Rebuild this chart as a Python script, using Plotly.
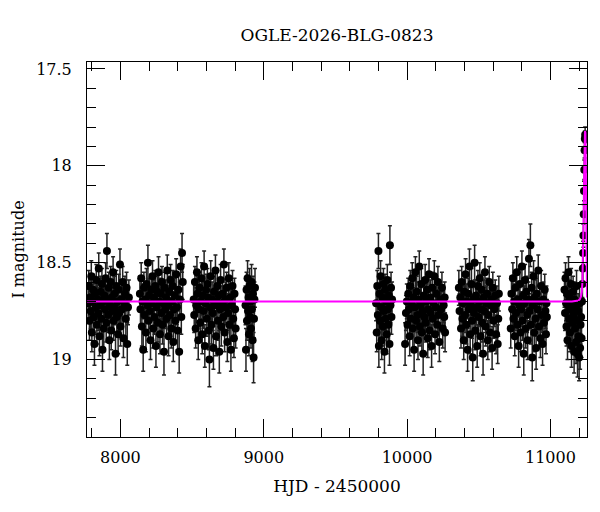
import plotly.graph_objects as go

# OGLE I-band photometry (HJD - 2450000, mag, error), one list per season
t_s1 = [7775, 7779, 7784, 7788, 7793, 7797, 7801, 7806, 7810, 7815,
        7819, 7823, 7828, 7832, 7836, 7841, 7845, 7849, 7854, 7858,
        7862, 7867, 7871, 7875, 7880, 7884, 7888, 7893, 7897, 7901,
        7906, 7910, 7914, 7919, 7923, 7927, 7932, 7936, 7940, 7945,
        7949, 7953, 7958, 7962, 7966, 7971, 7975, 7979, 7984, 7988,
        7992, 7997, 8001, 8006, 8011, 8016, 8021, 8027, 8032, 8038,
        8043, 8048, 8053, 8059]
mag_s1 = [18.71, 18.62, 18.80, 18.68, 18.75, 18.57, 18.86, 18.70, 18.64, 18.78,
          18.92, 18.66, 18.73, 18.59, 18.82, 18.69, 18.76, 18.53, 18.88, 18.72,
          18.65, 18.79, 18.61, 18.95, 18.70, 18.84, 18.67, 18.74, 18.58, 18.81,
          18.44, 18.69, 18.77, 18.63, 18.90, 18.72, 18.60, 18.85, 18.68, 18.75,
          18.55, 18.80, 18.66, 18.73, 18.97, 18.62, 18.78, 18.70, 18.87, 18.64,
          18.76, 18.51, 18.83, 18.69, 18.74, 18.60, 18.89, 18.71, 18.66, 18.79,
          18.63, 18.92, 18.73, 18.68]
err_s1 = [0.09, 0.08, 0.10, 0.09, 0.09, 0.08, 0.10, 0.09, 0.08, 0.09,
          0.11, 0.09, 0.09, 0.08, 0.10, 0.09, 0.09, 0.08, 0.10, 0.09,
          0.08, 0.09, 0.08, 0.11, 0.09, 0.10, 0.09, 0.09, 0.08, 0.10,
          0.09, 0.09, 0.09, 0.08, 0.10, 0.09, 0.08, 0.10, 0.09, 0.09,
          0.08, 0.10, 0.09, 0.09, 0.11, 0.08, 0.09, 0.09, 0.10, 0.08,
          0.09, 0.08, 0.10, 0.09, 0.09, 0.08, 0.10, 0.09, 0.09, 0.09,
          0.08, 0.11, 0.09, 0.09]

t_s2 = [8136, 8140, 8145, 8150, 8154, 8159, 8164, 8168, 8173, 8178,
        8182, 8187, 8192, 8196, 8201, 8206, 8210, 8215, 8220, 8224,
        8229, 8234, 8238, 8243, 8248, 8252, 8257, 8262, 8266, 8271,
        8276, 8280, 8285, 8290, 8294, 8299, 8304, 8308, 8313, 8318,
        8322, 8327, 8332, 8336, 8341, 8346, 8350, 8355, 8360, 8364,
        8369, 8374, 8379, 8384, 8389, 8394, 8399, 8405, 8410, 8415,
        8420, 8425, 8430, 8435]
mag_s2 = [18.66, 18.74, 18.58, 18.83, 18.70, 18.95, 18.63, 18.77, 18.69, 18.86,
          18.61, 18.72, 18.50, 18.80, 18.67, 18.75, 18.90, 18.64, 18.71, 18.57,
          18.84, 18.68, 18.78, 18.62, 18.93, 18.73, 18.65, 18.81, 18.55, 18.70,
          18.87, 18.66, 18.76, 18.60, 18.82, 18.71, 18.96, 18.63, 18.74, 18.68,
          18.79, 18.54, 18.72, 18.88, 18.65, 18.77, 18.59, 18.84, 18.70, 18.62,
          18.91, 18.74, 18.67, 18.80, 18.56, 18.73, 18.85, 18.64, 18.96, 18.69,
          18.52, 18.78, 18.45, 18.60]
err_s2 = [0.09, 0.09, 0.08, 0.10, 0.09, 0.11, 0.08, 0.09, 0.09, 0.10,
          0.08, 0.09, 0.09, 0.10, 0.09, 0.09, 0.10, 0.08, 0.09, 0.08,
          0.10, 0.09, 0.09, 0.08, 0.11, 0.09, 0.08, 0.10, 0.08, 0.09,
          0.10, 0.08, 0.09, 0.08, 0.10, 0.09, 0.12, 0.08, 0.09, 0.09,
          0.09, 0.08, 0.09, 0.10, 0.08, 0.09, 0.08, 0.10, 0.09, 0.08,
          0.10, 0.09, 0.09, 0.10, 0.08, 0.09, 0.10, 0.08, 0.11, 0.09,
          0.09, 0.09, 0.10, 0.09]

t_s3 = [8511, 8515, 8520, 8525, 8529, 8534, 8538, 8543, 8548, 8552,
        8557, 8561, 8566, 8571, 8575, 8580, 8584, 8589, 8594, 8598,
        8603, 8607, 8612, 8617, 8621, 8626, 8630, 8635, 8640, 8644,
        8649, 8653, 8658, 8663, 8667, 8672, 8676, 8681, 8686, 8690,
        8695, 8699, 8704, 8709, 8713, 8718, 8722, 8727, 8732, 8736,
        8741, 8746, 8751, 8756, 8761, 8766, 8771, 8776, 8782, 8787,
        8792, 8796, 8800, 8804]
mag_s3 = [18.69, 18.77, 18.60, 18.84, 18.72, 18.55, 18.66, 18.90, 18.74, 18.63,
          18.81, 18.70, 18.58, 18.87, 18.67, 18.75, 18.52, 18.93, 18.71, 18.64,
          18.79, 18.61, 18.68, 18.85, 19.00, 18.73, 18.57, 18.82, 18.69, 18.76,
          18.94, 18.65, 18.72, 18.54, 18.88, 18.70, 18.62, 18.80, 18.67, 18.96,
          18.74, 18.59, 18.83, 18.71, 18.66, 18.78, 18.51, 18.86, 18.69, 18.73,
          18.63, 18.91, 18.76, 18.58, 18.82, 18.68, 18.95, 18.72, 18.62, 18.79,
          18.89, 18.66, 18.74, 18.84]
err_s3 = [0.09, 0.09, 0.08, 0.10, 0.09, 0.08, 0.09, 0.10, 0.09, 0.08,
          0.10, 0.09, 0.08, 0.10, 0.09, 0.09, 0.08, 0.11, 0.09, 0.08,
          0.09, 0.08, 0.09, 0.10, 0.14, 0.09, 0.08, 0.10, 0.09, 0.09,
          0.11, 0.08, 0.09, 0.08, 0.10, 0.09, 0.08, 0.10, 0.09, 0.11,
          0.09, 0.08, 0.10, 0.09, 0.08, 0.09, 0.08, 0.10, 0.09, 0.09,
          0.08, 0.10, 0.09, 0.08, 0.10, 0.09, 0.11, 0.09, 0.08, 0.09,
          0.10, 0.08, 0.09, 0.10]

t_s4 = [8873, 8876, 8880, 8883, 8887, 8890, 8894, 8897, 8901, 8904,
        8908, 8911, 8915, 8918, 8922, 8925, 8929, 8932, 8935, 8939]
mag_s4 = [18.72, 18.95, 18.64, 18.80, 18.58, 18.75, 18.68, 18.87, 18.62, 18.78,
          18.70, 18.84, 18.60, 18.74, 18.90, 18.66, 18.99, 18.79, 18.69, 18.63]
err_s4 = [0.10, 0.11, 0.09, 0.10, 0.09, 0.10, 0.09, 0.11, 0.09, 0.10,
          0.09, 0.10, 0.09, 0.10, 0.11, 0.09, 0.13, 0.10, 0.09, 0.10]

t_s5 = [9784, 9788, 9792, 9796, 9800, 9803, 9807, 9811, 9815, 9819,
        9823, 9827, 9831, 9835, 9838, 9842, 9846, 9850, 9854, 9858,
        9862, 9866, 9870, 9873, 9877, 9880, 9884, 9888, 9891, 9895]
mag_s5 = [18.71, 18.86, 18.62, 18.77, 18.44, 18.93, 18.66, 18.80, 18.57, 18.73,
          18.90, 18.68, 18.83, 18.61, 18.75, 18.96, 18.64, 18.79, 18.70, 18.87,
          18.59, 18.74, 18.82, 18.67, 18.92, 18.41, 18.72, 18.63, 18.78, 18.69]
err_s5 = [0.09, 0.10, 0.08, 0.10, 0.09, 0.11, 0.08, 0.09, 0.08, 0.09,
          0.10, 0.09, 0.10, 0.08, 0.09, 0.11, 0.08, 0.09, 0.09, 0.10,
          0.08, 0.09, 0.10, 0.09, 0.11, 0.10, 0.09, 0.08, 0.09, 0.09]

t_s6 = [9986, 9992, 9998, 10003, 10008, 10013, 10018, 10022, 10027, 10031,
        10036, 10040, 10045, 10049, 10054, 10058, 10063, 10067, 10072, 10076,
        10081, 10085, 10090, 10094, 10099, 10103, 10108, 10112, 10117, 10121,
        10126, 10130, 10135, 10139, 10144, 10148, 10153, 10157, 10162, 10166,
        10171, 10175, 10180, 10185, 10190, 10195, 10200, 10205, 10210, 10215,
        10220, 10225, 10231, 10237, 10243, 10249, 10255, 10259, 10262, 10265]
mag_s6 = [18.92, 18.76, 18.70, 18.82, 18.66, 18.74, 18.88, 18.62, 18.79, 18.71,
          18.58, 18.84, 18.68, 18.95, 18.73, 18.55, 18.80, 18.65, 18.77, 18.90,
          18.69, 18.52, 18.83, 18.72, 18.61, 18.86, 18.75, 18.97, 18.67, 18.78,
          18.59, 18.81, 18.70, 18.64, 18.89, 18.74, 18.56, 18.85, 18.68, 18.76,
          18.93, 18.63, 18.79, 18.71, 18.57, 18.87, 18.73, 18.66, 18.82, 18.60,
          18.77, 18.91, 18.69, 18.74, 18.63, 18.84, 18.72, 18.78, 18.68, 18.86]
err_s6 = [0.11, 0.09, 0.09, 0.10, 0.08, 0.09, 0.10, 0.08, 0.09, 0.09,
          0.08, 0.10, 0.09, 0.11, 0.09, 0.08, 0.10, 0.08, 0.09, 0.10,
          0.09, 0.08, 0.10, 0.09, 0.08, 0.10, 0.09, 0.11, 0.08, 0.09,
          0.08, 0.10, 0.09, 0.08, 0.10, 0.09, 0.08, 0.10, 0.09, 0.09,
          0.11, 0.08, 0.09, 0.09, 0.08, 0.10, 0.09, 0.08, 0.10, 0.08,
          0.09, 0.10, 0.09, 0.09, 0.08, 0.10, 0.09, 0.09, 0.08, 0.10]

t_s7 = [10361, 10366, 10371, 10376, 10381, 10386, 10390, 10395, 10399, 10404,
        10408, 10413, 10417, 10422, 10426, 10431, 10435, 10440, 10444, 10449,
        10453, 10458, 10462, 10467, 10471, 10476, 10480, 10485, 10489, 10494,
        10498, 10503, 10507, 10512, 10516, 10521, 10525, 10530, 10534, 10539,
        10543, 10548, 10553, 10558, 10563, 10568, 10573, 10578, 10583, 10588,
        10593, 10598, 10603, 10609, 10615, 10621, 10627, 10632, 10636, 10640]
mag_s7 = [18.63, 18.75, 18.68, 18.84, 18.60, 18.79, 18.71, 18.90, 18.65, 18.77,
          18.56, 18.82, 18.70, 18.95, 18.66, 18.74, 18.52, 18.87, 18.72, 18.61,
          18.80, 18.99, 18.69, 18.76, 18.50, 18.85, 18.67, 18.73, 18.93, 18.62,
          18.78, 18.70, 18.58, 18.88, 18.74, 18.64, 18.81, 18.97, 18.68, 18.75,
          18.55, 18.83, 18.71, 18.66, 18.90, 18.77, 18.60, 18.86, 18.72, 18.69,
          18.94, 18.63, 18.80, 18.74, 18.67, 18.87, 18.71, 18.92, 18.79, 18.66]
err_s7 = [0.09, 0.09, 0.08, 0.10, 0.08, 0.09, 0.09, 0.10, 0.08, 0.09,
          0.08, 0.10, 0.09, 0.11, 0.08, 0.09, 0.09, 0.10, 0.09, 0.08,
          0.09, 0.12, 0.09, 0.09, 0.09, 0.10, 0.08, 0.09, 0.11, 0.08,
          0.09, 0.09, 0.08, 0.10, 0.09, 0.08, 0.10, 0.11, 0.09, 0.09,
          0.08, 0.10, 0.09, 0.08, 0.10, 0.09, 0.08, 0.10, 0.09, 0.09,
          0.11, 0.08, 0.09, 0.09, 0.08, 0.10, 0.09, 0.10, 0.09, 0.09]

t_s8 = [10723, 10728, 10733, 10738, 10742, 10747, 10751, 10756, 10760, 10765,
        10769, 10774, 10778, 10783, 10787, 10792, 10796, 10801, 10805, 10810,
        10814, 10819, 10823, 10828, 10832, 10837, 10841, 10846, 10850, 10855,
        10860, 10864, 10869, 10873, 10878, 10882, 10887, 10891, 10896, 10900,
        10905, 10910, 10915, 10920, 10925, 10930, 10935, 10940, 10945, 10950,
        10955, 10960, 10965, 10969, 10972, 10975]
mag_s8 = [18.84, 18.66, 18.74, 18.58, 18.79, 18.70, 18.88, 18.63, 18.76, 18.55,
          18.82, 18.69, 18.93, 18.72, 18.61, 18.86, 18.74, 18.52, 18.80, 18.67,
          18.97, 18.71, 18.59, 18.84, 18.65, 18.77, 18.90, 18.69, 18.48, 18.75,
          18.41, 18.82, 18.63, 18.99, 18.72, 18.57, 18.86, 18.68, 18.79, 18.94,
          18.66, 18.74, 18.54, 18.83, 18.70, 18.89, 18.62, 18.77, 18.92, 18.69,
          18.81, 18.64, 18.75, 18.87, 18.71, 18.78]
err_s8 = [0.10, 0.09, 0.09, 0.08, 0.09, 0.09, 0.10, 0.08, 0.09, 0.08,
          0.10, 0.09, 0.11, 0.09, 0.08, 0.10, 0.09, 0.08, 0.10, 0.09,
          0.11, 0.09, 0.08, 0.10, 0.08, 0.09, 0.10, 0.09, 0.10, 0.09,
          0.11, 0.10, 0.08, 0.12, 0.09, 0.08, 0.10, 0.09, 0.09, 0.11,
          0.08, 0.09, 0.08, 0.10, 0.09, 0.10, 0.08, 0.09, 0.11, 0.09,
          0.10, 0.08, 0.09, 0.10, 0.09, 0.09]

# last season, baseline then the rising part of the event
t_s9 = [11098, 11102, 11105, 11109, 11112, 11116, 11119, 11123, 11126, 11130,
        11133, 11137, 11140, 11144, 11147, 11151, 11154, 11158, 11161, 11165,
        11168, 11172, 11175, 11179, 11182, 11186, 11189, 11193, 11196, 11200,
        11203, 11207, 11210, 11214, 11217, 11220,
        11223, 11226, 11228, 11230, 11232, 11234, 11236, 11238, 11240, 11242]
mag_s9 = [18.64, 18.76, 18.58, 18.71, 18.83, 18.66, 18.90, 18.72, 18.55, 18.79,
          18.68, 18.86, 18.74, 18.61, 18.93, 18.70, 18.81, 18.65, 18.77, 18.96,
          18.69, 18.84, 18.73, 18.91, 18.62, 18.80, 18.97, 18.75, 18.88, 18.99,
          18.71, 18.94, 18.82, 18.78, 18.89, 18.70,
          18.61, 18.53, 18.45, 18.36, 18.25, 18.13, 18.02, 17.92, 17.86, 17.84]
err_s9 = [0.09, 0.09, 0.08, 0.09, 0.10, 0.08, 0.10, 0.09, 0.08, 0.10,
          0.09, 0.10, 0.09, 0.08, 0.11, 0.09, 0.10, 0.08, 0.09, 0.11,
          0.09, 0.10, 0.09, 0.11, 0.08, 0.10, 0.12, 0.09, 0.10, 0.12,
          0.09, 0.11, 0.10, 0.09, 0.10, 0.09,
          0.07, 0.07, 0.06, 0.06, 0.05, 0.05, 0.05, 0.04, 0.04, 0.04]

# point-lens model
model_t = [7767, 11150, 11195, 11205, 11213, 11219, 11223, 11226, 11229, 11232,
           11235, 11238, 11241, 11244, 11246, 11248, 11250, 11252, 11255]
model_mag = [18.70, 18.70, 18.695, 18.69, 18.675, 18.65, 18.60, 18.52, 18.40, 18.24,
             18.06, 17.90, 17.82, 17.83, 17.95, 18.15, 18.40, 18.60, 18.68]

t_all = t_s1 + t_s2 + t_s3 + t_s4 + t_s5 + t_s6 + t_s7 + t_s8 + t_s9
mag_all = mag_s1 + mag_s2 + mag_s3 + mag_s4 + mag_s5 + mag_s6 + mag_s7 + mag_s8 + mag_s9
err_all = err_s1 + err_s2 + err_s3 + err_s4 + err_s5 + err_s6 + err_s7 + err_s8 + err_s9

FONT = "DejaVu Serif"

fig = go.Figure()
fig.add_trace(go.Scatter(
    x=t_all, y=mag_all, mode="markers",
    marker=dict(color="black", size=8),
    error_y=dict(type="data", array=err_all, color="#222222", thickness=1.5, width=2),
    hoverinfo="skip"))
fig.add_trace(go.Scatter(
    x=model_t, y=model_mag, mode="lines",
    line=dict(color="#ff00ff", width=2)))

axis_common = dict(
    showline=True, linecolor="black", linewidth=1, mirror="allticks",
    ticks="inside", ticklen=18, tickwidth=1, tickcolor="black",
    showgrid=False, zeroline=False, automargin=False,
    tickfont=dict(family=FONT, size=16, color="black"),
)

# the page body adds 8px around the figure, so the figure is 16px smaller than the window
fig.update_layout(
    width=584, height=496,
    margin=dict(l=79, t=54, r=5, b=67),
    plot_bgcolor="white", paper_bgcolor="white",
    showlegend=False,
    title=dict(text="OGLE-2026-BLG-0823", x=0.5, xref="paper", xanchor="center",
               y=1 - 27 / 496, yref="container", yanchor="middle",
               font=dict(family=FONT, size=17, color="black")),
    xaxis=dict(range=[7767, 11255], tick0=8000, dtick=1000, tickformat="d",
               minor=dict(tick0=8000, dtick=200, ticks="inside", ticklen=9,
                          tickcolor="black", showgrid=False),
               title=dict(text="HJD - 2450000", standoff=13,
                          font=dict(family=FONT, size=17, color="black")),
               ticklabelstandoff=6,
               **axis_common),
    yaxis=dict(range=[19.40, 17.464], tick0=17.5, dtick=0.5,
               minor=dict(tick0=17.5, dtick=0.1, ticks="inside", ticklen=9,
                          tickcolor="black", showgrid=False),
               title=dict(text="I magnitude", standoff=7,
                          font=dict(family=FONT, size=16, color="black")),
               ticklabelstandoff=11,
               **axis_common),
)

fig.write_html("out.html")
